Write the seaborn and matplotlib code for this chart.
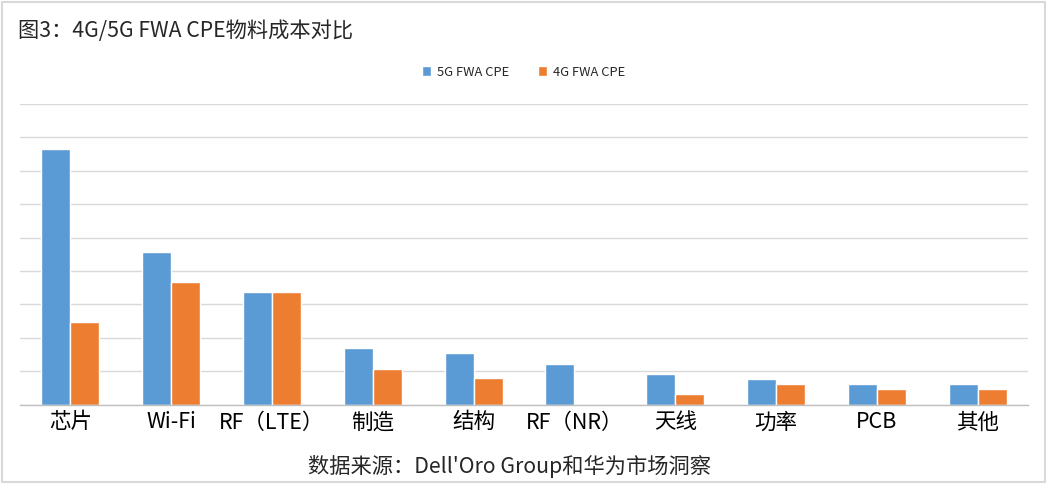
import matplotlib
matplotlib.use("Agg")
import matplotlib.pyplot as plt
import numpy as np
import pandas as pd
import seaborn as sns
from matplotlib.patches import Rectangle

# Bill of materials cost, in gridline units (y axis has no labels)
categories = ["芯片", "Wi-Fi", "RF（LTE）", "制造", "结构", "RF（NR）", "天线", "功率", "PCB", "其他"]
cost_5g = [7.66, 4.58, 3.38, 1.70, 1.55, 1.22, 0.91, 0.77, 0.62, 0.62]
cost_4g = [2.46, 3.68, 3.38, 1.05, 0.78, 0.0, 0.32, 0.62, 0.47, 0.47]
series = ["5G FWA CPE", "4G FWA CPE"]
colors = ["#5B9BD5", "#ED7D31"]

df = pd.DataFrame({
    "category": categories * 2,
    "series": [series[0]] * len(categories) + [series[1]] * len(categories),
    "cost": cost_5g + cost_4g,
})

sns.set_theme(style="white")
plt.rcParams["font.family"] = ["Noto Sans CJK SC", "DejaVu Sans"]

fig = plt.figure(figsize=(10.47, 4.95), dpi=100)
ax = fig.add_axes([20 / 1047, 1 - 404.5 / 495, 1008 / 1047, 300.5 / 495])

sns.barplot(data=df, x="category", y="cost", hue="series", palette=colors,
            width=0.575, gap=0, saturation=1, ax=ax, legend=True)

ax.set_ylim(0, 9)
ax.set_xlim(-0.5, len(categories) - 0.5)
ax.set_yticks(np.arange(0, 10, 1))
ax.set_yticklabels([])
ax.tick_params(axis="y", length=0)
ax.yaxis.grid(True, color="#D9D9D9", linewidth=1)
ax.set_axisbelow(True)
ax.set_xlabel("")
ax.set_ylabel("")

ax.set_xticks(range(len(categories)))
ax.set_xticklabels(categories, fontsize=15.5, color="#000000")
ax.tick_params(axis="x", which="major", length=0, pad=5)
ax.set_xticks(np.arange(-0.5, len(categories), 1), minor=True)
ax.tick_params(axis="x", which="minor", length=5, color="#BFBFBF", width=1)

for s in ["top", "right", "left"]:
    ax.spines[s].set_visible(False)
ax.spines["bottom"].set_color("#BFBFBF")
ax.spines["bottom"].set_linewidth(1)

leg = ax.legend(loc="center", bbox_to_anchor=(0.5, (495 - 72) / 495), bbox_transform=fig.transFigure,
                ncol=2, frameon=False, fontsize=9.3, handlelength=0.7, handleheight=0.7,
                columnspacing=2.2, handletextpad=0.5)

fig.text(18 / 1047, 1 - 31 / 495, "图3：4G/5G FWA CPE物料成本对比", fontsize=15.3,
         ha="left", va="center")
fig.text(510 / 1047, 1 - 467 / 495, "数据来源：Dell'Oro Group和华为市场洞察", fontsize=15.3,
         ha="center", va="center")

# light grey frame around the chart
fig.patches.append(Rectangle((1.5 / 1047, 1 - 482 / 495), 1043 / 1047, 480 / 495,
                             transform=fig.transFigure, fill=False,
                             edgecolor="#D9D9D9", linewidth=1.5))

fig.savefig("out.png", dpi=100)
